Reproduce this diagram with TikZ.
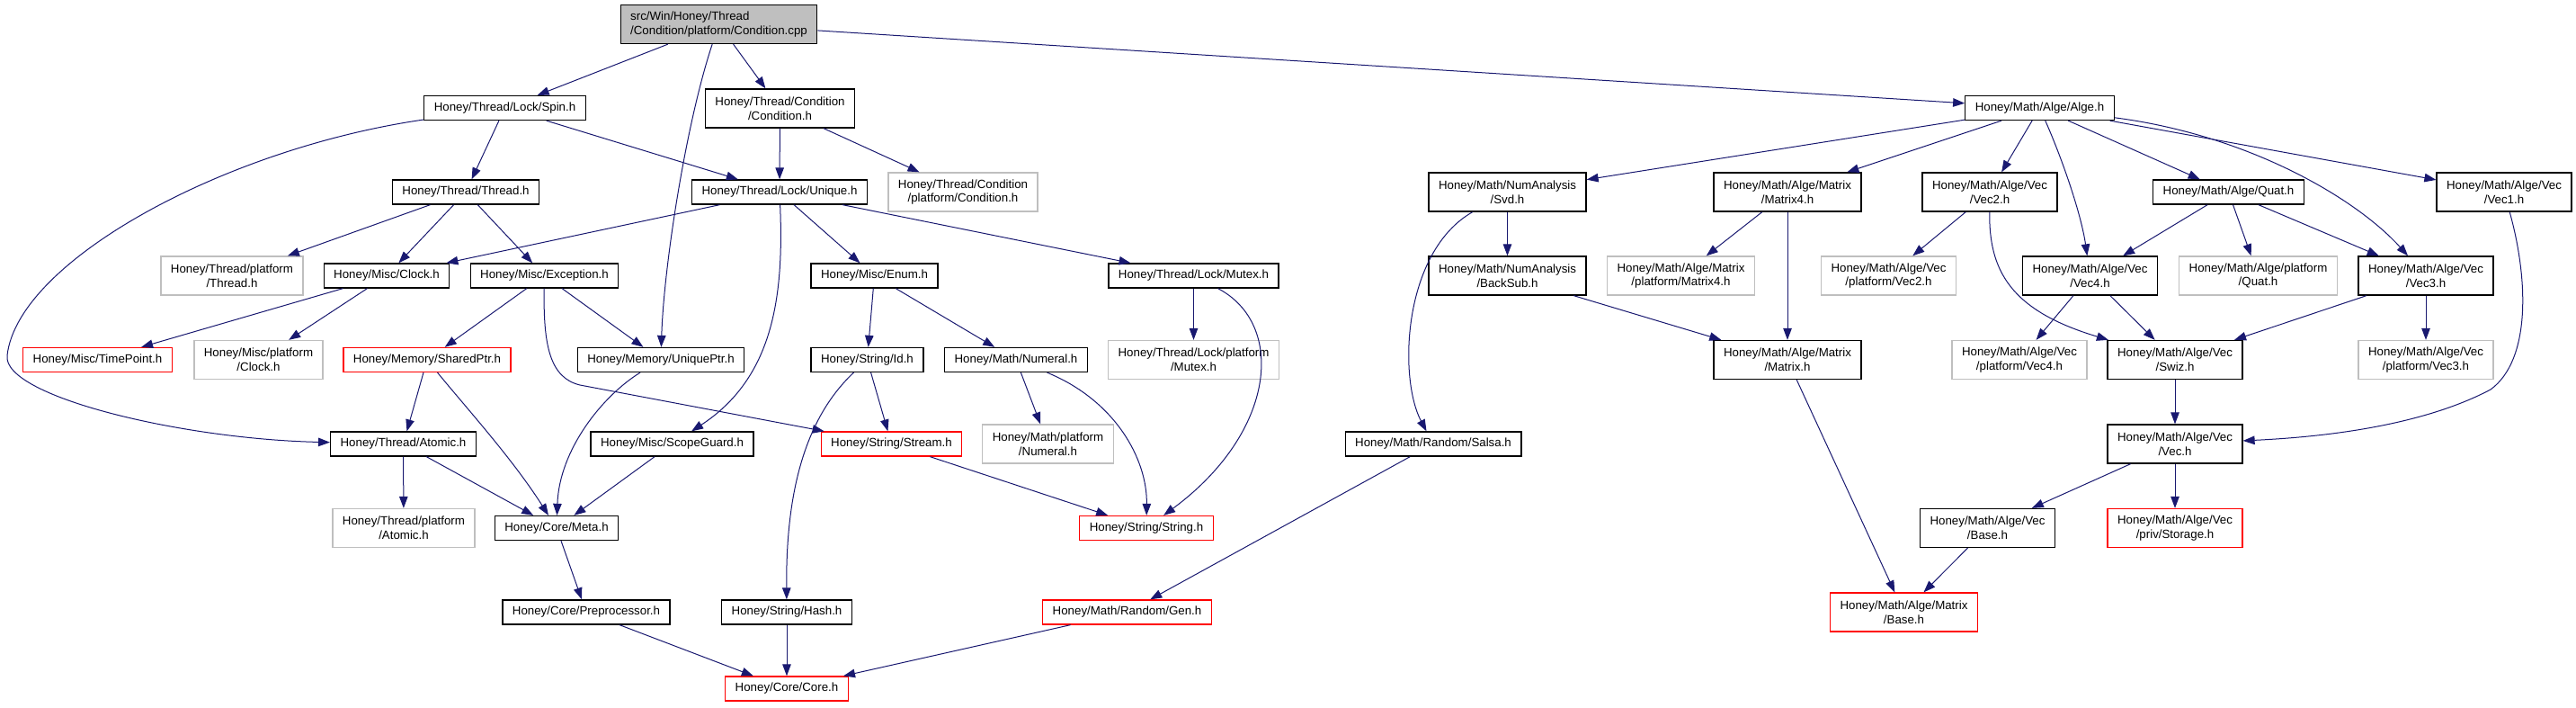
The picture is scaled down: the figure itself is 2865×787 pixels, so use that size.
\documentclass[tikz,border=0pt]{standalone}
\usepackage{fontspec}
\setmainfont{Liberation Sans}
\usepackage{xcolor}
\usetikzlibrary{arrows.meta}
\definecolor{edgeblue}{HTML}{191970}
\definecolor{grey75}{HTML}{BFBFBF}
\tikzset{
  hf/.style={draw=black,line width=1.3pt,inner xsep=11pt,inner ysep=2pt,minimum height=27pt,align=center,font=\fontsize{13.3}{15.7}\selectfont},
  hftwo/.style={hf,minimum height=43pt},
  ext/.style={draw=grey75},
  trunc/.style={draw=red},
  dep/.style={draw=edgeblue,line width=1pt,-{Triangle[length=13pt,width=9.5pt]}}
}

\begin{document}
\begin{tikzpicture}[x=1pt,y=-1pt]
\useasboundingbox (0,0) rectangle (2865,787);
% row 0 and 1
\node[hftwo,fill=grey75,align=left] (root) at (799.5,27) {src/Win/Honey/Thread\\/Condition/platform/Condition.cpp};
\node[hf] (spin) at (561.5,120) {Honey/Thread/Lock/Spin.h};
\node[hftwo] (cond) at (867.5,120.5) {Honey/Thread/Condition\\/Condition.h};
\node[hf] (alge) at (2268.5,120) {Honey/Math/Alge/Alge.h};
% row 2
\node[hf] (thread) at (518,213.5) {Honey/Thread/Thread.h};
\node[hf] (unique) at (867,213.5) {Honey/Thread/Lock/Unique.h};
\node[hftwo,ext] (condplat) at (1071,213.5) {Honey/Thread/Condition\\/platform/Condition.h};
\node[hftwo] (svd) at (1676.5,213.5) {Honey/Math/NumAnalysis\\/Svd.h};
\node[hftwo] (matfour) at (1988,213.5) {Honey/Math/Alge/Matrix\\/Matrix4.h};
\node[hftwo] (vectwo) at (2213,213.5) {Honey/Math/Alge/Vec\\/Vec2.h};
\node[hf] (quat) at (2478.5,213.5) {Honey/Math/Alge/Quat.h};
\node[hftwo] (vecone) at (2785,213.5) {Honey/Math/Alge/Vec\\/Vec1.h};
% row 3
\node[hftwo,ext] (threadplat) at (258,306.5) {Honey/Thread/platform\\/Thread.h};
\node[hf] (clock) at (430,306.5) {Honey/Misc/Clock.h};
\node[hf] (except) at (605.5,306.5) {Honey/Misc/Exception.h};
\node[hf] (enum) at (972.5,306.5) {Honey/Misc/Enum.h};
\node[hf] (mutex) at (1327.5,306.5) {Honey/Thread/Lock/Mutex.h};
\node[hftwo] (backsub) at (1676.5,306.5) {Honey/Math/NumAnalysis\\/BackSub.h};
\node[hftwo,ext] (matplat) at (1869.5,306.5) {Honey/Math/Alge/Matrix\\/platform/Matrix4.h};
\node[hftwo,ext] (vectwoplat) at (2100.5,306.5) {Honey/Math/Alge/Vec\\/platform/Vec2.h};
\node[hftwo] (vecfour) at (2324.5,306.5) {Honey/Math/Alge/Vec\\/Vec4.h};
\node[hftwo,ext] (quatplat) at (2511.5,306.5) {Honey/Math/Alge/platform\\/Quat.h};
\node[hftwo] (vecthree) at (2698,306.5) {Honey/Math/Alge/Vec\\/Vec3.h};
% row 4
\node[hf,trunc] (timept) at (108.5,400) {Honey/Misc/TimePoint.h};
\node[hftwo,ext] (clockplat) at (287.5,400) {Honey/Misc/platform\\/Clock.h};
\node[hf,trunc] (sharedptr) at (475,400) {Honey/Memory/SharedPtr.h};
\node[hf] (uniqueptr) at (735,400) {Honey/Memory/UniquePtr.h};
\node[hf] (id) at (964.5,400) {Honey/String/Id.h};
\node[hf] (numeral) at (1130,400) {Honey/Math/Numeral.h};
\node[hftwo,ext] (mutexplat) at (1327.5,400) {Honey/Thread/Lock/platform\\/Mutex.h};
\node[hftwo] (matrix) at (1988,400) {Honey/Math/Alge/Matrix\\/Matrix.h};
\node[hftwo,ext] (vecfourplat) at (2246,400) {Honey/Math/Alge/Vec\\/platform/Vec4.h};
\node[hftwo] (swiz) at (2419,400) {Honey/Math/Alge/Vec\\/Swiz.h};
\node[hftwo,ext] (vecthreeplat) at (2698,400) {Honey/Math/Alge/Vec\\/platform/Vec3.h};
% row 5
\node[hf] (atomic) at (448.5,493.5) {Honey/Thread/Atomic.h};
\node[hf] (scopeg) at (747.5,493.5) {Honey/Misc/ScopeGuard.h};
\node[hf,trunc] (stream) at (991.5,493.5) {Honey/String/Stream.h};
\node[hftwo,ext] (numeralplat) at (1165.5,493.5) {Honey/Math/platform\\/Numeral.h};
\node[hf] (salsa) at (1594,493.5) {Honey/Math/Random/Salsa.h};
\node[hftwo] (vec) at (2419,493.5) {Honey/Math/Alge/Vec\\/Vec.h};
% row 6
\node[hftwo,ext] (atomicplat) at (449,587) {Honey/Thread/platform\\/Atomic.h};
\node[hf] (meta) at (619,587) {Honey/Core/Meta.h};
\node[hf,trunc] (string) at (1275,587) {Honey/String/String.h};
\node[hftwo] (vecbase) at (2210.5,587) {Honey/Math/Alge/Vec\\/Base.h};
\node[hftwo,trunc] (storage) at (2419,587) {Honey/Math/Alge/Vec\\/priv/Storage.h};
% row 7 and 8
\node[hf] (preproc) at (652,680.5) {Honey/Core/Preprocessor.h};
\node[hf] (hash) at (875,680.5) {Honey/String/Hash.h};
\node[hf,trunc] (gen) at (1253.5,680.5) {Honey/Math/Random/Gen.h};
\node[hftwo,trunc] (matbase) at (2117.5,680.5) {Honey/Math/Alge/Matrix\\/Base.h};
\node[hf,trunc] (core) at (875,765.5) {Honey/Core/Core.h};
% thread side
\draw[dep] (root) -- (spin); \draw[dep] (root) -- (cond); \draw[dep] (root) -- (alge);
\draw[dep] (root) .. controls (762,140) and (738,300) .. (uniqueptr);
\draw[dep] (spin) .. controls (250,165) and (20,290) .. (8,395) .. controls (2,440) and (200,488) .. (atomic);
\draw[dep] (spin) -- (thread); \draw[dep] (spin) -- (unique);
\draw[dep] (cond) -- (unique); \draw[dep] (cond) -- (condplat);
\draw[dep] (thread) -- (threadplat); \draw[dep] (thread) -- (clock); \draw[dep] (thread) -- (except);
\draw[dep] (unique) -- (clock); \draw[dep] (unique) -- (enum); \draw[dep] (unique) -- (mutex);
\draw[dep] (unique) .. controls (872,330) and (860,420) .. (scopeg);
\draw[dep] (clock) -- (timept); \draw[dep] (clock) -- (clockplat);
\draw[dep] (except) -- (sharedptr); \draw[dep] (except) -- (uniqueptr);
\draw[dep] (except) .. controls (604,385) and (612,420) .. (645,428) -- (stream);
\draw[dep] (sharedptr) -- (atomic);
\draw[dep] (sharedptr) .. controls (520,455) and (570,510) .. (meta);
\draw[dep] (uniqueptr) .. controls (670,440) and (622,500) .. (meta);
\draw[dep] (atomic) -- (atomicplat); \draw[dep] (atomic) -- (meta); \draw[dep] (scopeg) -- (meta);
\draw[dep] (meta) -- (preproc); \draw[dep] (preproc) -- (core);
\draw[dep] (enum) -- (id); \draw[dep] (enum) -- (numeral);
\draw[dep] (id) -- (stream); \draw[dep] (id) .. controls (890,470) and (874,560) .. (hash);
\draw[dep] (numeral) -- (numeralplat);
\draw[dep] (numeral) .. controls (1240,445) and (1276,510) .. (string);
\draw[dep] (mutex) -- (mutexplat);
\draw[dep] (mutex) .. controls (1430,360) and (1420,480) .. (string);
\draw[dep] (stream) -- (string); \draw[dep] (hash) -- (core); \draw[dep] (gen) -- (core);
% math side
\draw[dep] (alge) -- (svd); \draw[dep] (alge) -- (matfour); \draw[dep] (alge) -- (vectwo);
\draw[dep] (alge) .. controls (2295,180) and (2315,240) .. (vecfour);
\draw[dep] (alge) -- (quat); \draw[dep] (alge) -- (vecone);
\draw[dep] (alge) .. controls (2500,150) and (2620,220) .. (vecthree);
\draw[dep] (svd) -- (backsub); \draw[dep] (svd) .. controls (1560,280) and (1555,420) .. (salsa);
\draw[dep] (salsa) -- (gen);
\draw[dep] (matfour) -- (matplat); \draw[dep] (matfour) -- (matrix);
\draw[dep] (backsub) -- (matrix); \draw[dep] (matrix) -- (matbase);
\draw[dep] (vectwo) -- (vectwoplat);
\draw[dep] (vectwo) .. controls (2212,300) and (2235,345) .. (swiz);
\draw[dep] (vecfour) -- (vecfourplat); \draw[dep] (vecfour) -- (swiz);
\draw[dep] (quat) -- (vecfour); \draw[dep] (quat) -- (quatplat); \draw[dep] (quat) -- (vecthree);
\draw[dep] (vecthree) -- (swiz); \draw[dep] (vecthree) -- (vecthreeplat);
\draw[dep] (vecone) .. controls (2812,310) and (2815,400) .. (2770,433) .. controls (2700,470) and (2600,485) .. (vec);
\draw[dep] (swiz) -- (vec); \draw[dep] (vec) -- (vecbase); \draw[dep] (vec) -- (storage);
\draw[dep] (vecbase) -- (matbase);
\end{tikzpicture}
\end{document}
